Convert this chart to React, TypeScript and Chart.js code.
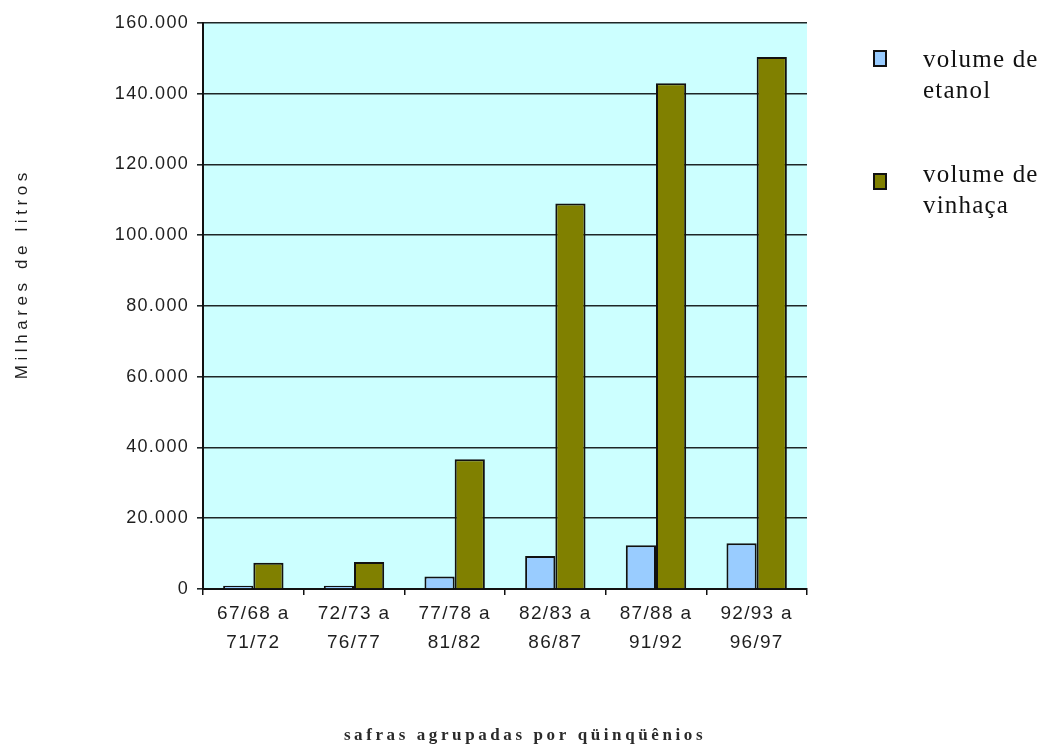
import { useEffect, useRef } from "react";
import { Chart, registerables } from "chart.js";

Chart.register(...registerables);

// Five-season groups (two-line tick labels)
const categories: string[][] = [
  ["67/68 a", "71/72"],
  ["72/73 a", "76/77"],
  ["77/78 a", "81/82"],
  ["82/83 a", "86/87"],
  ["87/88 a", "91/92"],
  ["92/93 a", "96/97"],
];

// Volumes in thousands of litres
const etanol: number[] = [900, 950, 3500, 9300, 12400, 12950];
const vinhaca: number[] = [7400, 7600, 36700, 109000, 143000, 150400];

const seriesNames: string[][] = [
  ["volume de", "etanol"],
  ["volume de", "vinhaça"],
];
const seriesColors: string[] = ["#99CCFF", "#808000"];

const yTitle = "Milhares de litros";
const xTitle = "safras agrupadas por qüinqüênios";

const formatThousands = (v: number): string =>
  String(Math.round(v)).replace(/\B(?=(\d{3})+(?!\d))/g, ".");

const SANS = '"Liberation Sans", Arial, sans-serif';
const SERIF = '"Liberation Serif", "Times New Roman", serif';

// Light cyan plot background + letter spacing for the axis labels
const plotBackground = {
  id: "plotBackground",
  beforeDraw(chart: any) {
    const { ctx, chartArea } = chart;
    ctx.save();
    ctx.fillStyle = "#CCFFFF";
    ctx.fillRect(chartArea.left, chartArea.top, chartArea.right - chartArea.left, chartArea.bottom - chartArea.top);
    ctx.restore();
    ctx.letterSpacing = "1.3px";
  },
};

// Axis titles and the side legend
const titlesAndLegend = {
  id: "titlesAndLegend",
  afterDraw(chart: any) {
    const ctx: CanvasRenderingContext2D = chart.ctx;

    // vertical axis title
    ctx.save();
    ctx.translate(22, 276);
    ctx.rotate(-Math.PI / 2);
    ctx.font = `17px ${SANS}`;
    (ctx as any).letterSpacing = "4.6px";
    ctx.textAlign = "center";
    ctx.textBaseline = "middle";
    ctx.fillStyle = "#1e1e1e";
    ctx.fillText(yTitle, 2.3, 0);
    ctx.restore();

    // horizontal axis title
    ctx.save();
    ctx.font = `bold 17px ${SERIF}`;
    (ctx as any).letterSpacing = "3.6px";
    ctx.textAlign = "center";
    ctx.textBaseline = "alphabetic";
    ctx.fillStyle = "#2a2a2a";
    ctx.fillText(xTitle, 525, 740);
    ctx.restore();

    // legend
    const markerTops = [51, 174];
    const textBaselines = [66.5, 181.5];
    ctx.save();
    ctx.font = `25px ${SERIF}`;
    (ctx as any).letterSpacing = "1.2px";
    ctx.textAlign = "left";
    ctx.textBaseline = "alphabetic";
    seriesNames.forEach((lines, i) => {
      ctx.fillStyle = seriesColors[i];
      ctx.fillRect(874, markerTops[i], 12, 15);
      ctx.strokeStyle = "#111";
      ctx.lineWidth = 2;
      ctx.strokeRect(874, markerTops[i], 12, 15);
      ctx.fillStyle = "#111";
      lines.forEach((line, j) => {
        ctx.fillText(line, 923, textBaselines[i] + j * 31.7);
      });
    });
    ctx.restore();
    (ctx as any).letterSpacing = "0px";
  },
};

export default function App() {
  const canvasRef = useRef<HTMLCanvasElement | null>(null);

  useEffect(() => {
    if (!canvasRef.current) return;
    const chart = new Chart(canvasRef.current, {
      type: "bar",
      data: {
        labels: categories,
        datasets: [
          {
            label: seriesNames[0].join(" "),
            data: etanol,
            backgroundColor: seriesColors[0],
            borderColor: "#111",
            borderWidth: 2,
            categoryPercentage: 0.6,
            barPercentage: 1.0,
          },
          {
            label: seriesNames[1].join(" "),
            data: vinhaca,
            backgroundColor: seriesColors[1],
            borderColor: "#111",
            borderWidth: 2,
            categoryPercentage: 0.6,
            barPercentage: 1.0,
          },
        ],
      },
      options: {
        responsive: false,
        animation: false,
        layout: { padding: { top: 23, right: 239, left: 0, bottom: 0 } },
        plugins: {
          legend: { display: false },
          tooltip: { enabled: false },
        },
        scales: {
          x: {
            grid: {
              offset: true,
              drawOnChartArea: false,
              tickLength: 6,
              color: "#111",
              lineWidth: 1.5,
            },
            border: { color: "#111", width: 2 },
            ticks: {
              font: { family: SANS, size: 19, lineHeight: 1.53 },
              color: "#1e1e1e",
              padding: 4,
              maxRotation: 0,
              autoSkip: false,
            },
            afterFit(scale: any) {
              scale.height = 156;
            },
          },
          y: {
            min: 0,
            max: 160000,
            grid: { color: "#1e2626", lineWidth: 1.6, tickLength: 6 },
            border: { color: "#111", width: 2 },
            ticks: {
              stepSize: 20000,
              font: { family: SANS, size: 18 },
              color: "#1e1e1e",
              padding: 8,
              callback: (v: any) => formatThousands(Number(v)),
            },
            afterFit(scale: any) {
              scale.width = 203;
            },
          },
        },
      },
      plugins: [plotBackground, titlesAndLegend],
    });
    return () => chart.destroy();
  }, []);

  return (
    <div style={{ position: "absolute", left: 0, top: 0, width: 1046, height: 745, background: "#fff" }}>
      <canvas ref={canvasRef} width={1046} height={745} style={{ display: "block" }} />
    </div>
  );
}
